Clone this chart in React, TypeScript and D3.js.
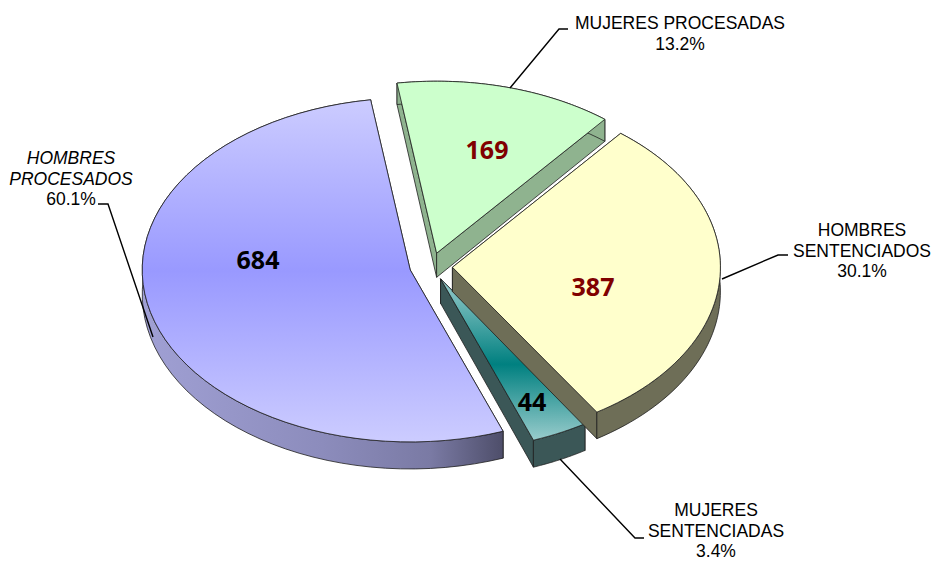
import React from 'react';
import * as d3 from 'd3';

const categories = ['MUJERES PROCESADAS', 'HOMBRES SENTENCIADOS', 'MUJERES SENTENCIADAS', 'HOMBRES PROCESADOS'];
const values = [169, 387, 44, 684];
const percentLabels = ['13.2%', '30.1%', '3.4%', '60.1%'];

const width = 933;
const height = 561;
const centerX = 431;
const centerY = 266.5;
const radiusX = 268;
const radiusY = 172;
const explode = 0.08;
const startAngle = (-8.5 * Math.PI) / 180;

// unit circle -> screen, before a slice gets pulled out
const xScale = d3.scaleLinear().domain([-1, 1]).range([centerX - radiusX, centerX + radiusX]);
const yScale = d3.scaleLinear().domain([-1, 1]).range([centerY - radiusY, centerY + radiusY]);
// side wall is a bit shorter at the back of the pie
const wallDepth = d3.scaleLinear().domain([120, 440]).range([22, 27]);

const topFill = ['#CCFFCC', '#FFFFCC', 'url(#tealTop)', 'url(#blueTop)'];
const wallFill = ['#8FB38F', '#6E6E57', '#3B5757', 'url(#blueWall)'];
const valueColor = ['#800000', '#800000', '#000000', '#000000'];
const valuePos = [[487, 150], [593, 287], [532, 402], [258, 260]];
const paintOrder = [3, 0, 2, 1];

// label lines: text, italic or not
const labelLines = [
  { x: 680, y: 29, lines: ['MUJERES PROCESADAS'], italic: false },
  { x: 862, y: 236, lines: ['HOMBRES', 'SENTENCIADOS'], italic: false },
  { x: 716, y: 516, lines: ['MUJERES', 'SENTENCIADAS'], italic: false },
  { x: 71, y: 164, lines: ['HOMBRES', 'PROCESADOS'], italic: true },
];
const leaders = [
  [[510, 88], [559, 29], [568, 29]],
  [[722, 279], [778, 255], [788, 255]],
  [[560, 459], [635, 538], [644, 538]],
  [[153, 337], [108, 204], [98, 204]],
];

const pieLayout = d3.pie<number>()
  .sort(null)
  .startAngle(startAngle)
  .endAngle(startAngle + Math.PI * 2);

const lineGen = d3.line<number[]>().x(d => d[0]).y(d => d[1]);

const App = () => {
  const arcs = pieLayout(values);

  const slices = arcs.map((a, i) => {
    const mid = (a.startAngle + a.endAngle) / 2;
    const dx = xScale(Math.sin(mid) * explode) - centerX;
    const dy = yScale(-Math.cos(mid) * explode) - centerY;
    const apex = [centerX + dx, centerY + dy];
    const steps = d3.range(0, 61).map(k => a.startAngle + ((a.endAngle - a.startAngle) * k) / 60);
    const rim = steps.map(t => [xScale(Math.sin(t)) + dx, yScale(-Math.cos(t)) + dy]);
    const down = (p: number[]) => [p[0], p[1] + wallDepth(p[1])];
    const first = rim[0];
    const last = rim[rim.length - 1];
    return {
      i,
      top: lineGen([apex, ...rim])! + 'Z',
      rimWall: lineGen([...rim, ...rim.slice().reverse().map(down)])! + 'Z',
      sideA: lineGen([apex, first, down(first), down(apex)])! + 'Z',
      sideB: lineGen([apex, last, down(last), down(apex)])! + 'Z',
    };
  });

  return (
    <svg
      width={width}
      height={height}
      style={{ position: 'absolute', left: 0, top: 0, display: 'block', background: '#fff' }}
      fontFamily="'Liberation Sans', Arial, sans-serif"
    >
      <defs>
        <linearGradient id="blueTop" x1="0" y1="0" x2="0" y2="1">
          <stop offset="0" stopColor="#CCCCFF" />
          <stop offset="0.5" stopColor="#9999FF" />
          <stop offset="1" stopColor="#CCCCFF" />
        </linearGradient>
        <linearGradient id="tealTop" x1="0" y1="0" x2="0" y2="1">
          <stop offset="0" stopColor="#99CCCC" />
          <stop offset="0.53" stopColor="#008080" />
          <stop offset="1" stopColor="#99CCCC" />
        </linearGradient>
        <linearGradient id="blueWall" x1="0" y1="0" x2="1" y2="0">
          <stop offset="0" stopColor="#A0A0D4" />
          <stop offset="0.5" stopColor="#8C8CBC" />
          <stop offset="0.8" stopColor="#7A7AA4" />
          <stop offset="1" stopColor="#4E4E6A" />
        </linearGradient>
      </defs>

      {paintOrder.map(idx => {
        const s = slices[idx];
        return (
          <g key={categories[idx]} stroke="#1E1E1E" strokeWidth={0.8} strokeLinejoin="round">
            <path d={s.sideA} fill={wallFill[idx]} />
            <path d={s.sideB} fill={wallFill[idx]} />
            <path d={s.rimWall} fill={wallFill[idx]} />
            <path d={s.top} fill={topFill[idx]} />
          </g>
        );
      })}

      {leaders.map((l, i) => (
        <path key={i} d={lineGen(l)!} fill="none" stroke="#000" strokeWidth={1.4} />
      ))}

      {values.map((v, i) => (
        <text
          key={i}
          x={valuePos[i][0]}
          y={valuePos[i][1]}
          dy="0.36em"
          textAnchor="middle"
          fontFamily="'Open Sans', sans-serif"
          fontWeight={700}
          fontSize={25}
          fill={valueColor[i]}
        >
          {v}
        </text>
      ))}

      {labelLines.map((l, i) => (
        <text key={i} textAnchor="middle" fontSize={17.5} fill="#000">
          {l.lines.map((t, k) => (
            <tspan key={k} x={l.x} y={l.y + k * 20.5} fontStyle={l.italic ? 'italic' : 'normal'}>
              {t}
            </tspan>
          ))}
          <tspan x={l.x} y={l.y + l.lines.length * 20.5}>{percentLabels[i]}</tspan>
        </text>
      ))}
    </svg>
  );
};

export default App;
